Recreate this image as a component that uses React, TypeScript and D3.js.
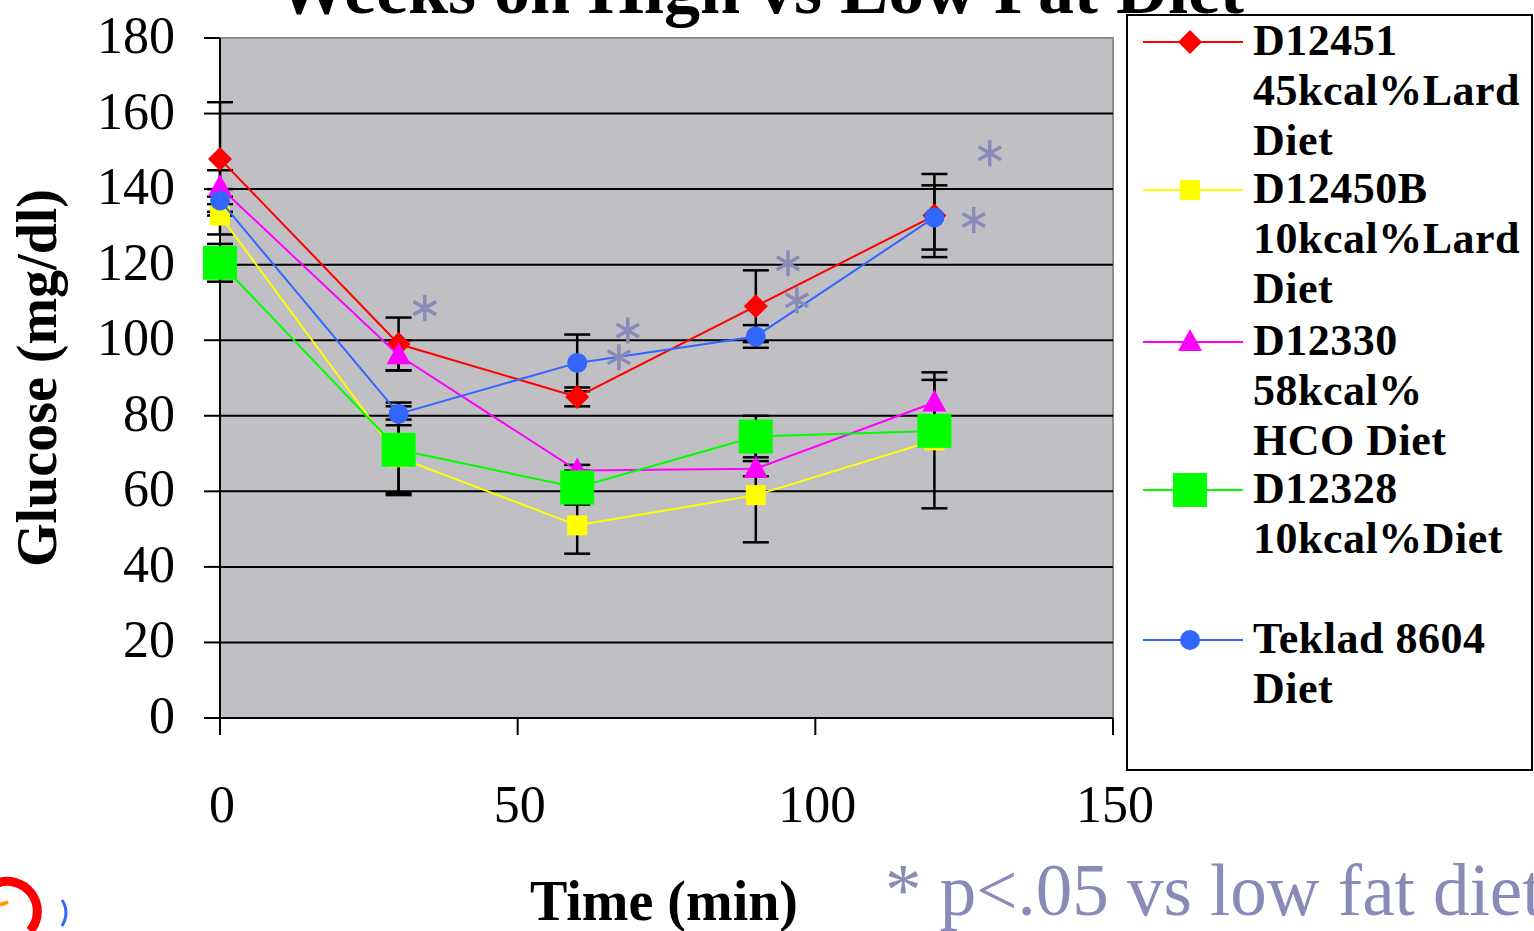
import React from "react";
import * as d3 from "d3";

const times = [0, 30, 60, 90, 120];
const seriesNames = ["D12451", "D12450B", "D12330", "D12328", "Teklad 8604"];
const redValues = [148, 99, 85, 109, 133];
const yellowValues = [133, 69, 51, 59, 73.5];
const magentaValues = [140.5, 96, 65.5, 66, 83.5];
const greenValues = [120.5, 71, 61, 74.5, 76];
const blueValues = [137, 80.5, 94, 101, 132.5];
const redErr = [15, 7, 2.5, 9.5, 11];
const yellowErr = [5, 10, 7.5, 12.5, 18];
const magentaErr = [4.5, 4, 1.5, 2, 6];
const greenErr = [5, 11.5, 4.5, 5.5, 3];
const blueErr = [3, 3, 7.5, 3, 8.5];
const yTicks = [0, 20, 40, 60, 80, 100, 120, 140, 160, 180];
const xTicks = [0, 50, 100, 150];
const starPoints: [number, number][] = [
  [34.4, 108.5], [68.5, 102.6], [67, 95.5], [95.4, 120.4], [96.9, 110.6], [129.3, 149.5], [126.6, 131.8],
];
const legendLines = [
  ["D12451", "45kcal%Lard", "Diet"],
  ["D12450B", "10kcal%Lard", "Diet"],
  ["D12330", "58kcal%", "HCO Diet"],
  ["D12328", "10kcal%Diet"],
  ["Teklad 8604", "Diet"],
];

const colors = ["#ff0000", "#ffff00", "#ff00ff", "#00ff00", "#3366ff"];
const markers = ["diamond", "square", "triangle", "bigsquare", "circle"];

const x = d3.scaleLinear().domain([0, 150]).range([220, 1113]);
const y = d3.scaleLinear().domain([0, 180]).range([718, 38]);
const serif = "'Liberation Serif', 'Times New Roman', serif";
const starColor = "#8a8ab8";

function Marker({ kind, cx, cy, color }: { kind: string; cx: number; cy: number; color: string }) {
  if (kind === "diamond")
    return <path d={`M${cx},${cy - 12} L${cx + 12},${cy} L${cx},${cy + 12} L${cx - 12},${cy} Z`} fill={color} />;
  if (kind === "square") return <rect x={cx - 10} y={cy - 10} width={20} height={20} fill={color} />;
  if (kind === "bigsquare") return <rect x={cx - 17} y={cy - 17} width={34} height={34} fill={color} />;
  if (kind === "triangle")
    return <path d={`M${cx},${cy - 13} L${cx + 12},${cy + 9} L${cx - 12},${cy + 9} Z`} fill={color} />;
  return <circle cx={cx} cy={cy} r={10} fill={color} />;
}

function Star({ cx, cy }: { cx: number; cy: number }) {
  const r = 13;
  const parts = [0, 60, 120].map((a) => {
    const rad = (a * Math.PI) / 180;
    const dx = Math.sin(rad) * r;
    const dy = Math.cos(rad) * r;
    return `M${cx - dx},${cy - dy} L${cx + dx},${cy + dy}`;
  });
  return <path d={parts.join(" ")} stroke={starColor} strokeWidth={3.5} fill="none" />;
}

export default function App() {
  const values = [redValues, yellowValues, magentaValues, greenValues, blueValues];
  const errs = [redErr, yellowErr, magentaErr, greenErr, blueErr];
  const line = d3
    .line<number>()
    .x((_, i) => x(times[i]))
    .y((v) => y(v));

  return (
    <svg width={1534} height={931} style={{ position: "absolute", left: 0, top: 0, background: "#fff" }}>
      <text x={760} y={13} textAnchor="middle" fontFamily={serif} fontWeight="bold" fontSize={72}>
        Weeks on High vs Low Fat Diet
      </text>

      <rect x={220} y={38} width={893} height={680} fill="#c0c0c4" stroke="#8c8c8c" strokeWidth={2} />

      {yTicks.filter((t) => t > 0 && t < 180).map((t) => (
        <line key={t} x1={220} x2={1113} y1={y(t)} y2={y(t)} stroke="#000" strokeWidth={2} />
      ))}

      <line x1={220} x2={220} y1={38} y2={718} stroke="#000" strokeWidth={2} />
      {yTicks.map((t) => (
        <g key={t}>
          <line x1={204} x2={220} y1={y(t)} y2={y(t)} stroke="#000" strokeWidth={2} />
          <text x={175} y={y(t) + 15} textAnchor="end" fontFamily={serif} fontSize={52}>
            {t}
          </text>
        </g>
      ))}

      <line x1={220} x2={1113} y1={718} y2={718} stroke="#000" strokeWidth={2} />
      {xTicks.map((t) => (
        <g key={t}>
          <line x1={x(t)} x2={x(t)} y1={718} y2={735} stroke="#000" strokeWidth={2} />
          <text x={x(t) + 2} y={822} textAnchor="middle" fontFamily={serif} fontSize={52}>
            {t}
          </text>
        </g>
      ))}

      {values.map((vals, si) =>
        vals.map((v, i) => {
          const e = errs[si][i];
          const cx = x(times[i]);
          return (
            <g key={`e${si}-${i}`} stroke="#000" strokeWidth={2.5}>
              <line x1={cx} x2={cx} y1={y(v + e)} y2={y(v - e)} />
              <line x1={cx - 13} x2={cx + 13} y1={y(v + e)} y2={y(v + e)} />
              <line x1={cx - 13} x2={cx + 13} y1={y(v - e)} y2={y(v - e)} />
            </g>
          );
        })
      )}

      {values.map((vals, si) => (
        <g key={`s${si}`}>
          <path d={line(vals) || ""} fill="none" stroke={colors[si]} strokeWidth={2} />
          {vals.map((v, i) => (
            <Marker key={i} kind={markers[si]} cx={x(times[i])} cy={y(v)} color={colors[si]} />
          ))}
        </g>
      ))}

      {starPoints.map(([sx, sy], i) => (
        <Star key={i} cx={x(sx)} cy={y(sy)} />
      ))}

      <text
        transform="translate(56,378) rotate(-90)"
        textAnchor="middle"
        fontFamily={serif}
        fontWeight="bold"
        fontSize={56}
      >
        Glucose (mg/dl)
      </text>
      <text x={664} y={920} textAnchor="middle" fontFamily={serif} fontWeight="bold" fontSize={56}>
        Time (min)
      </text>
      <text x={885} y={915} fontFamily={serif} fontSize={73} fill={starColor}>
        * p&lt;.05 vs low fat diet
      </text>

      <rect x={1127} y={15} width={405} height={755} fill="#fff" stroke="#000" strokeWidth={2} />
      {legendLines.map((lines, si) => {
        const top = [40, 188, 340, 488, 638][si];
        return (
          <g key={`l${si}`}>
            <line x1={1143} x2={1243} y1={top + 2} y2={top + 2} stroke={colors[si]} strokeWidth={2} />
            <Marker kind={markers[si]} cx={1190} cy={top + 2} color={colors[si]} />
            {lines.map((t, li) => (
              <text
                key={li}
                x={1253}
                y={top + 15 + li * 50}
                fontFamily={serif}
                fontWeight="bold"
                fontSize={44}
                letterSpacing={0.5}
              >
                {t}
              </text>
            ))}
          </g>
        );
      })}

      <path d="M-5,884 A30,30 0 0 1 30,931" fill="none" stroke="#ff0000" strokeWidth={9} />
      <path d="M0,905 L8,902" stroke="#ff9900" strokeWidth={4} />
      <path d="M62,900 Q70,912 62,926" fill="none" stroke="#3366ff" strokeWidth={3} />
    </svg>
  );
}
